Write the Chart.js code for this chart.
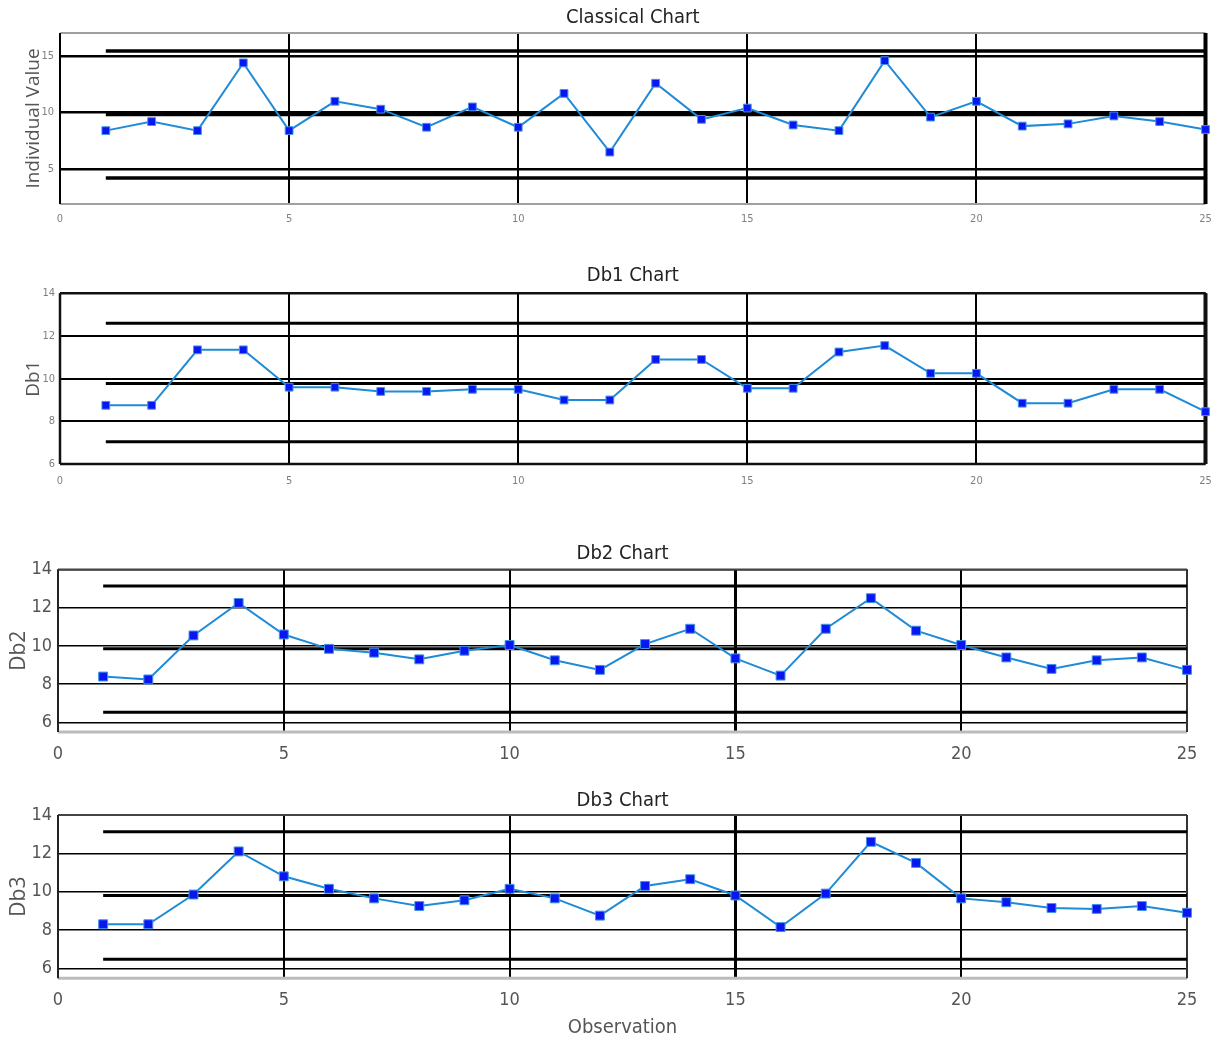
<!DOCTYPE html>
<html>
<head>
<meta charset="utf-8">
<title>Classical and Db control charts</title>
<script src="https://cdn.jsdelivr.net/npm/chart.js@4.4.0/dist/chart.umd.min.js"></script>
<style>
  body { margin: 0; background: #fff; }
  #page { position: relative; width: 1212px; height: 1044px; overflow: hidden; }
  .painel { position: absolute; left: 0; width: 1212px; }
  canvas { display: block; }
</style>
</head>
<body>
<div id="page">
  <div class="painel" style="top:0px"><canvas id="chartClassical" width="1212" height="234"></canvas></div>
  <div class="painel" style="top:250px"><canvas id="chartDb1" width="1212" height="244"></canvas></div>
  <div class="painel" style="top:530px"><canvas id="chartDb2" width="1212" height="242"></canvas></div>
  <div class="painel" style="top:780px"><canvas id="chartDb3" width="1212" height="264"></canvas></div>
</div>
<script>
const observations = [1, 2, 3, 4, 5, 6, 7, 8, 9, 10, 11, 12, 13, 14, 15, 16, 17, 18, 19, 20, 21, 22, 23, 24, 25];

const classicalValues = [8.4, 9.2, 8.4, 14.4, 8.4, 11.0, 10.3, 8.7, 10.5, 8.7, 11.7, 6.5, 12.6, 9.4, 10.4, 8.9, 8.4, 14.6, 9.6, 11.0, 8.8, 9.0, 9.7, 9.2, 8.5];
const db1Values = [8.75, 8.75, 11.35, 11.35, 9.6, 9.6, 9.4, 9.4, 9.5, 9.5, 9.0, 9.0, 10.9, 10.9, 9.55, 9.55, 11.25, 11.55, 10.25, 10.25, 8.85, 8.85, 9.5, 9.5, 8.45];
const db2Values = [8.4, 8.25, 10.55, 12.25, 10.6, 9.85, 9.65, 9.3, 9.75, 10.05, 9.25, 8.75, 10.1, 10.9, 9.35, 8.45, 10.9, 12.5, 10.8, 10.05, 9.4, 8.8, 9.25, 9.4, 8.75];
const db3Values = [8.3, 8.3, 9.85, 12.1, 10.8, 10.15, 9.65, 9.25, 9.55, 10.15, 9.65, 8.75, 10.3, 10.65, 9.8, 8.15, 9.9, 12.6, 11.5, 9.65, 9.45, 9.15, 9.1, 9.25, 8.9];

// UCL, CL, LCL
const classicalLimits = [15.45, 9.82, 4.2];
const db1Limits = [12.6, 9.77, 7.04];
const db2Limits = [13.14, 9.85, 6.53];
const db3Limits = [13.13, 9.8, 6.47];

const xTickValues = [0, 5, 10, 15, 20, 25];
const classicalTicks = [5, 10, 15];
const dbTicks = [6, 8, 10, 12, 14];

const fonteEstreita = "'Liberation Sans Narrow', 'DejaVu Sans Condensed', Roboto, sans-serif";
const fonteRotulo = "'Open Sans', 'DejaVu Sans', sans-serif";

const framePlugin = {
  id: 'frame',
  beforeDatasetsDraw(chart, args, opts) {
    const { left, right, top, bottom } = chart.chartArea;
    const ctx = chart.ctx;
    const lado = (x1, y1, x2, y2, s) => {
      ctx.save();
      ctx.strokeStyle = s[0];
      ctx.lineWidth = s[1];
      ctx.beginPath();
      ctx.moveTo(x1, y1);
      ctx.lineTo(x2, y2);
      ctx.stroke();
      ctx.restore();
    };
    lado(left, top, right, top, opts.top);
    lado(left, bottom, right, bottom, opts.bottom);
    lado(left, top, left, bottom, opts.left);
    lado(right, top, right, bottom, opts.right);
  }
};

document.addEventListener("DOMContentLoaded", function () {
  criarCarta('chartClassical', {
    title: 'Classical Chart', values: classicalValues, limits: classicalLimits,
    yMin: 1.9, yMax: 17.05, yTicks: classicalTicks, yTitle: 'Individual Value', yTitleSize: 19, yTitlePad: 22,
    padRight: 6, yWidth: 60, xHeight: 30, titlePad: { top: 6, bottom: 3 },
    tickSize: 11, tickColor: '#808080', xTickPad: 9, yTickPad: 6,
    gridWidth: 2.5, xGridWidth: 2, thickX: null, limitWidth: 3.5, pointRadius: 5.5,
    frame: { top: ['#a0a0a0', 2], bottom: ['#a0a0a0', 2], left: ['#000', 2], right: ['#000', 4] }
  });
  criarCarta('chartDb1', {
    title: 'Db1 Chart', values: db1Values, limits: db1Limits,
    yMin: 6, yMax: 14, yTicks: dbTicks, yTitle: 'Db1', yTitleSize: 19, yTitlePad: 22,
    padRight: 6, yWidth: 60, xHeight: 30, titlePad: { top: 14, bottom: 5.3 },
    tickSize: 11, tickColor: '#808080', xTickPad: 11, yTickPad: 5,
    gridWidth: 2, xGridWidth: 2, thickX: null, limitWidth: 3, pointRadius: 5.5,
    frame: { top: ['#111', 2.5], bottom: ['#111', 2.5], left: ['#111', 2.5], right: ['#111', 4] }
  });
  criarCarta('chartDb2', {
    title: 'Db2 Chart', values: db2Values, limits: db2Limits,
    yMin: 5.5, yMax: 14, yTicks: dbTicks, yTitle: 'Db2', yTitleSize: 21, yTitlePad: 6,
    padRight: 25, yWidth: 58, xHeight: 40, titlePad: { top: 12, bottom: 3.5 },
    tickSize: 18, tickColor: '#555', xTickPad: 12, yTickPad: 6,
    gridWidth: 1.5, xGridWidth: 2, thickX: 15, limitWidth: 3, pointRadius: 6.3,
    frame: { top: ['#444', 2], bottom: ['#bbb', 3], left: ['#222', 2], right: ['#333', 2] }
  });
  criarCarta('chartDb3', {
    title: 'Db3 Chart', values: db3Values, limits: db3Limits,
    yMin: 5.48, yMax: 14, yTicks: dbTicks, yTitle: 'Db3', yTitleSize: 21, yTitlePad: 6,
    padRight: 25, yWidth: 58, xHeight: 65.7, titlePad: { top: 8.7, bottom: 2.3 },
    tickSize: 18, tickColor: '#555', xTickPad: 11, yTickPad: 6,
    gridWidth: 1.5, xGridWidth: 2, thickX: 15, limitWidth: 3, pointRadius: 6.3,
    xTitle: 'Observation',
    frame: { top: ['#444', 2], bottom: ['#bbb', 3], left: ['#222', 2], right: ['#333', 2] }
  });
});

function linhaLimite(valor, largura) {
  return {
    data: [{ x: observations[0], y: valor }, { x: observations[observations.length - 1], y: valor }],
    borderColor: '#000',
    borderWidth: largura,
    pointRadius: 0,
    clip: false
  };
}

function criarCarta(id, cfg) {
  const serie = {
    data: observations.map((o, i) => ({ x: o, y: cfg.values[i] })),
    borderColor: '#1f8ad6',
    borderWidth: 2,
    pointStyle: 'rect',
    pointRadius: cfg.pointRadius,
    pointBackgroundColor: '#0a16f2',
    pointBorderColor: '#3f95e6',
    pointBorderWidth: 1,
    clip: false
  };

  new Chart(document.getElementById(id), {
    type: 'line',
    data: {
      datasets: [
        serie,
        linhaLimite(cfg.limits[0], cfg.limitWidth),
        linhaLimite(cfg.limits[1], cfg.limitWidth),
        linhaLimite(cfg.limits[2], cfg.limitWidth)
      ]
    },
    options: {
      responsive: false,
      animation: false,
      layout: { padding: { left: 0, right: cfg.padRight, top: 0, bottom: 0 } },
      plugins: {
        legend: { display: false },
        tooltip: { enabled: false },
        title: {
          display: true,
          text: cfg.title,
          fullSize: false,
          color: '#222',
          font: { family: fonteEstreita, size: 20, weight: 'normal' },
          padding: cfg.titlePad
        },
        frame: cfg.frame
      },
      scales: {
        x: {
          type: 'linear',
          min: 0,
          max: 25,
          afterBuildTicks: s => { s.ticks = xTickValues.map(v => ({ value: v })); },
          afterFit: s => {
            s.height = cfg.xHeight;
            s.paddingLeft = 0;
            s.paddingRight = 0;
          },
          border: { display: false },
          grid: {
            drawTicks: false,
            color: '#000',
            lineWidth: c => (cfg.thickX !== null && c.tick && c.tick.value === cfg.thickX) ? 3 : cfg.xGridWidth
          },
          ticks: {
            padding: cfg.xTickPad,
            color: cfg.tickColor,
            maxRotation: 0,
            font: { family: fonteEstreita, size: cfg.tickSize }
          },
          title: {
            display: !!cfg.xTitle,
            text: cfg.xTitle || '',
            color: '#555',
            font: { family: fonteEstreita, size: 20 },
            padding: { top: 0, bottom: 4 }
          }
        },
        y: {
          min: cfg.yMin,
          max: cfg.yMax,
          afterBuildTicks: s => { s.ticks = cfg.yTicks.map(v => ({ value: v })); },
          afterFit: s => {
            s.width = cfg.yWidth;
            s.paddingTop = 0;
            s.paddingBottom = 0;
          },
          border: { display: false },
          grid: { drawTicks: false, color: '#000', lineWidth: cfg.gridWidth },
          ticks: {
            padding: cfg.yTickPad,
            color: cfg.tickColor,
            font: { family: fonteEstreita, size: cfg.tickSize }
          },
          title: {
            display: true,
            text: cfg.yTitle,
            color: '#555',
            font: { family: fonteRotulo, size: cfg.yTitleSize },
            padding: { top: cfg.yTitlePad, bottom: 0 }
          }
        }
      }
    },
    plugins: [framePlugin]
  });
}
</script>
</body>
</html>
